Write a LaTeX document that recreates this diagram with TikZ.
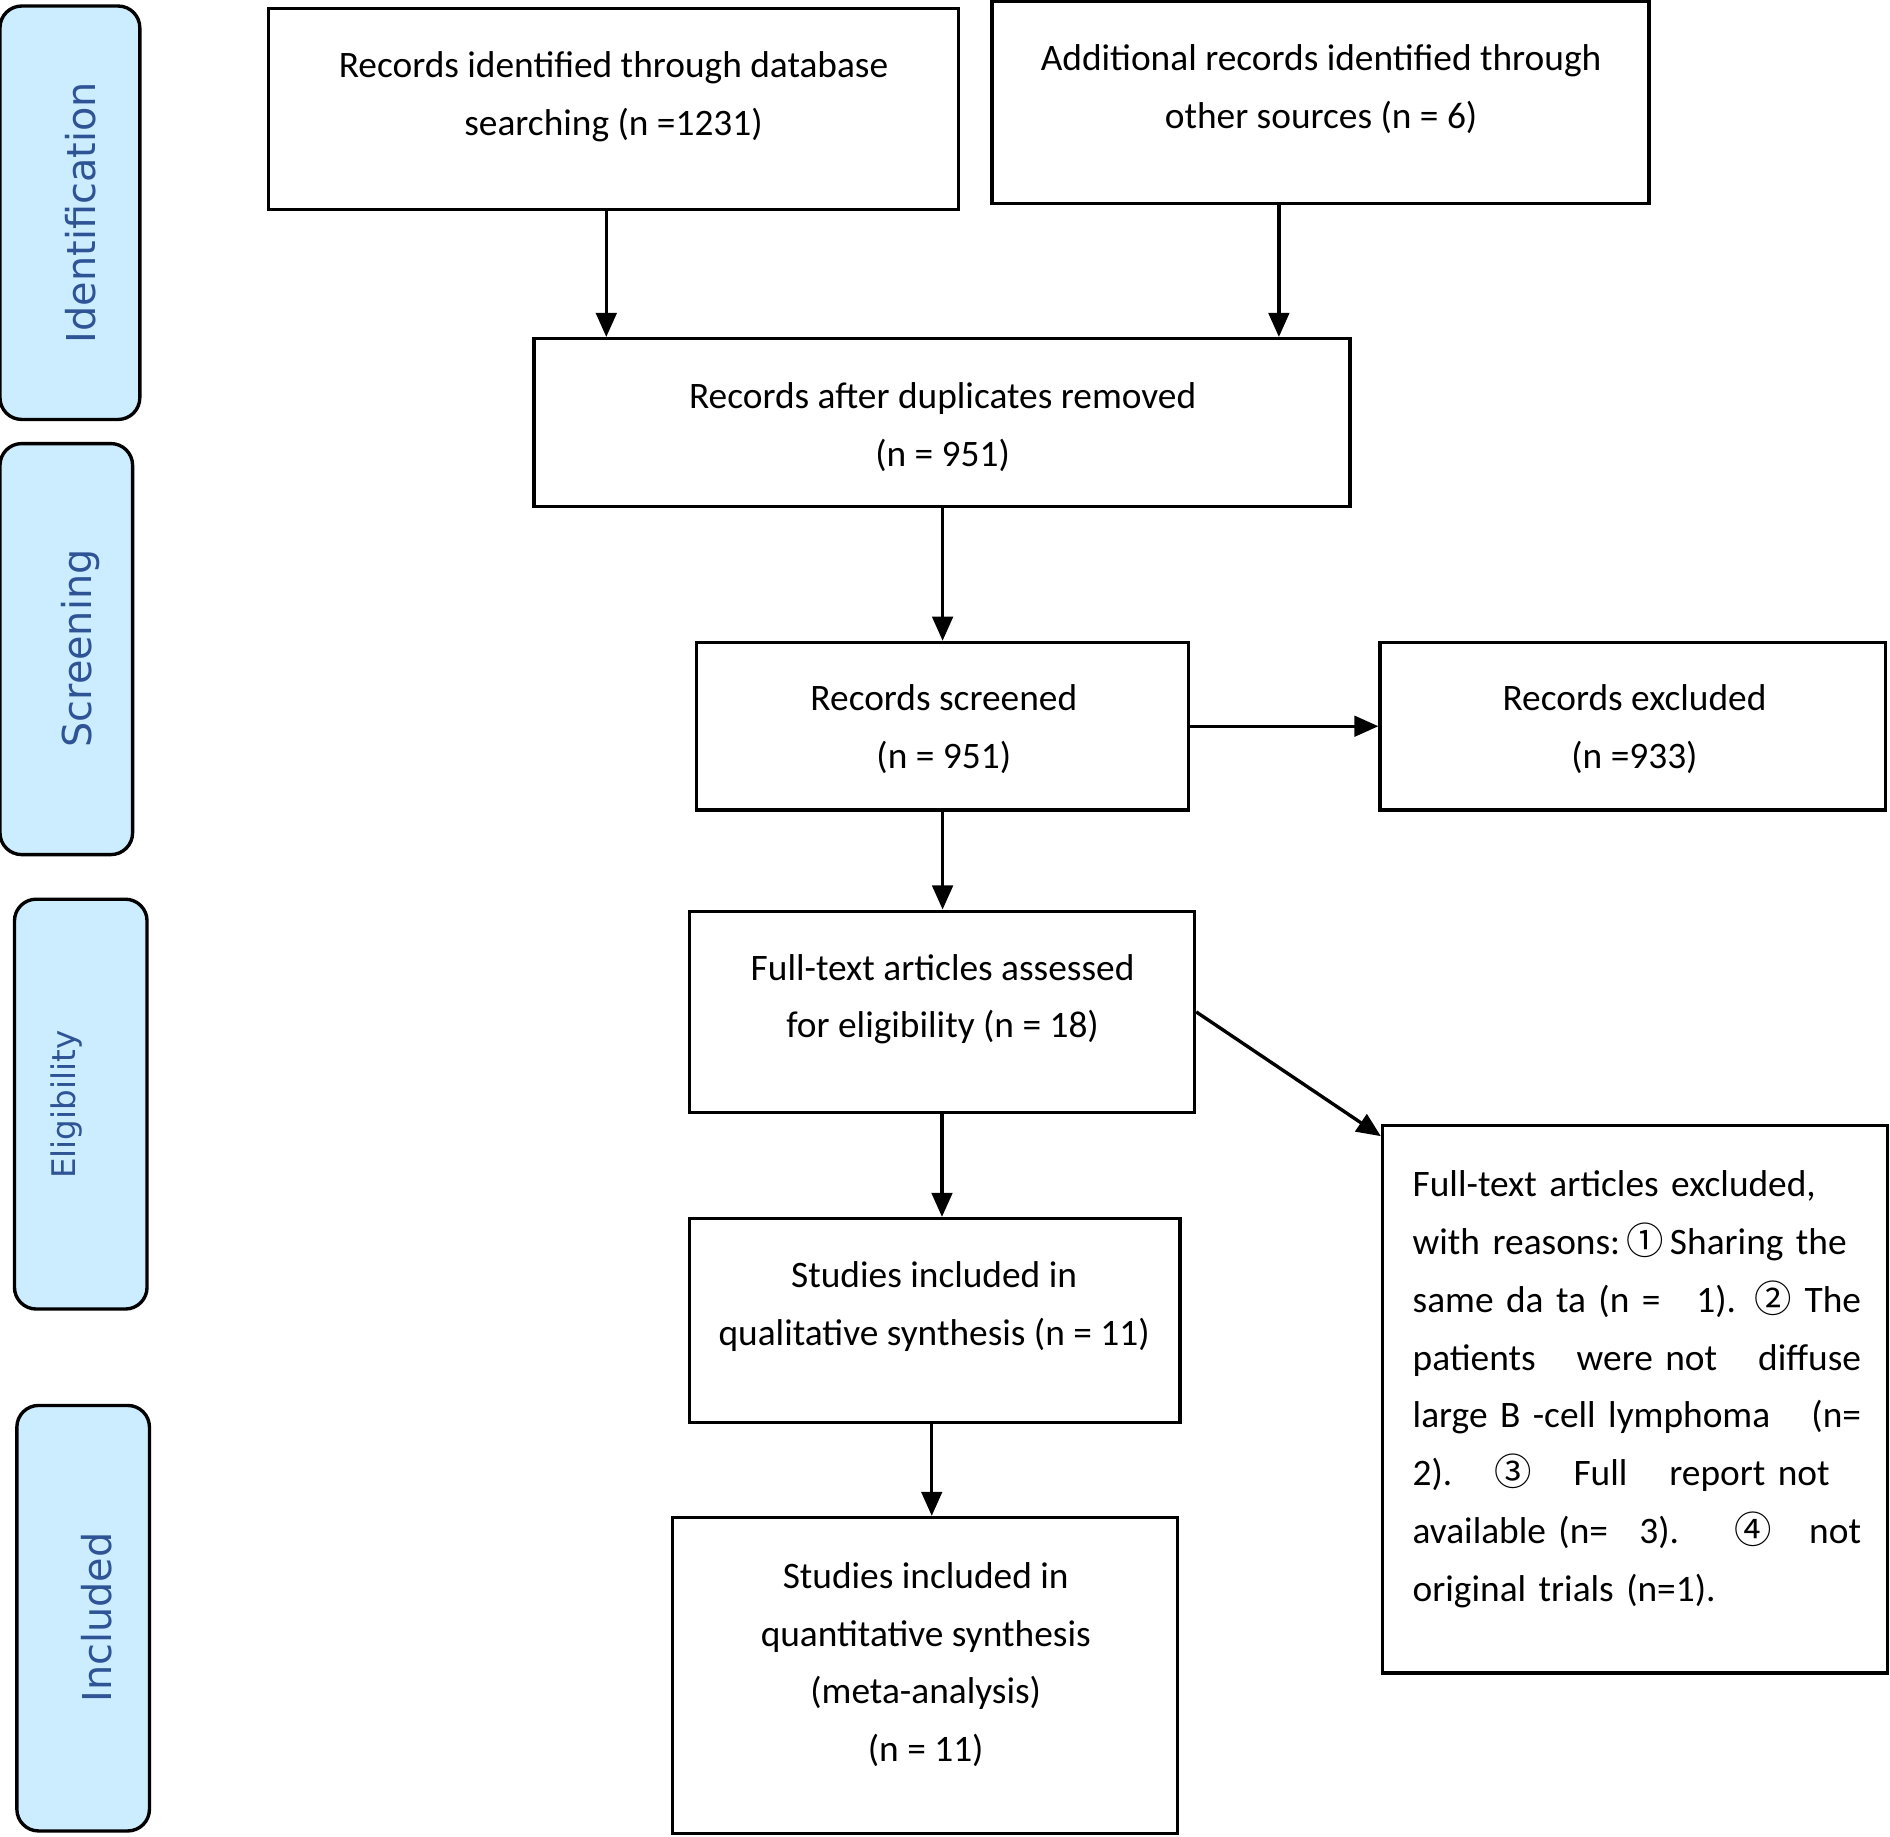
\documentclass[tikz,border=0pt]{standalone}
\usepackage{fontspec}
\setmainfont{Carlito}
\newfontfamily\phasefont{DejaVu Sans}
\newfontfamily\cjkfont{Noto Sans CJK SC}
\usetikzlibrary{arrows.meta}
\definecolor{phasefill}{RGB}{204,236,255}
\definecolor{phasetext}{RGB}{47,84,150}
\newcommand{\cnum}[1]{{\cjkfont #1}}
\begin{document}
\begin{tikzpicture}[x=0.5pt,y=-0.5pt,
  box/.style={draw, line width=1.4pt, inner sep=0pt},
  txt/.style={align=center, font=\fontsize{15.5}{24}\selectfont, inner sep=0pt},
  phase/.style={draw, line width=1.4pt, fill=phasefill, rounded corners=9pt, inner sep=0pt},
  phasetxt/.style={rotate=90, text=phasetext, font=\phasefont\fontsize{16.5}{20}\selectfont, inner sep=0pt},
  arr/.style={line width=1.4pt, -{Triangle[length=10pt,width=8.5pt]}}]
\useasboundingbox (0,0) rectangle (1568,1524);

% phase boxes
\node[phase, minimum width=58pt, minimum height=171.5pt] (p1) at (58,176.5) {};
\node[phase, minimum width=55pt, minimum height=170.5pt] (p2) at (55,538.5) {};
\node[phase, minimum width=55pt, minimum height=170pt] (p3) at (67,916) {};
\node[phase, minimum width=55pt, minimum height=176.5pt] (p4) at (69,1342.5) {};
\node[phasetxt] (p1t) at (67,176.5) {Identification};
\node[phasetxt] (p2t) at (67,538) {Screening};
\node[phasetxt, font=\phasefont\fontsize{13.5}{16}\selectfont] (p3t) at (55,916.5) {Eligibility};
\node[phasetxt] (p4t) at (80,1342) {Included};

% flow boxes
\node[box, minimum width=286pt, minimum height=83.5pt] (b1) at (509,90.5) {};
\node[txt] (b1t) at (509,80) {Records identified through database\\searching (n =1231)};
\node[box, minimum width=272.5pt, minimum height=84pt] (b2) at (1095.5,85) {};
\node[txt] (b2t) at (1096,74) {Additional records identified through\\other sources (n = 6)};
\node[box, minimum width=338.5pt, minimum height=69.5pt] (b3) at (781.5,350.5) {};
\node[txt] (b3t) at (782,354) {Records after duplicates removed\\(n = 951)};
\node[box, minimum width=204pt, minimum height=69.5pt] (b4) at (782,602.5) {};
\node[txt] (b4t) at (783,605) {Records screened\\(n = 951)};
\node[box, minimum width=209.5pt, minimum height=69.5pt] (b5) at (1354.5,602.5) {};
\node[txt] (b5t) at (1356,605) {Records excluded\\(n =933)};
\node[box, minimum width=209.5pt, minimum height=83.5pt] (b6) at (781.5,839.5) {};
\node[txt] (b6t) at (782,829) {Full-text articles assessed\\for eligibility (n = 18)};
\node[box, minimum width=209.5pt, minimum height=227pt] (b7) at (1356.5,1161) {};
\node[txt, align=left, text width=186pt] (b7t) at (1358,1152.5) {%
Full-text articles excluded,\\
\makebox[186pt][s]{with reasons:\,\cnum{①}\,Sharing the}\\
\makebox[186pt][l]{same da ta (n =\hfill 1). \cnum{②} The}\\
\makebox[186pt][l]{patients\hfill were not\hfill diffuse}\\
\makebox[186pt][l]{large B -cell lymphoma\hfill (n=}\\
\makebox[173pt][l]{2).\hfill \cnum{③}\hfill Full\hfill report not}\\
\makebox[186pt][l]{available (n=\hspace{13pt}3).\hspace{0pt plus 1.5fill}\cnum{④}\hspace{0pt plus 1fill}not}\\
original trials (n=1).};
\node[box, minimum width=203.5pt, minimum height=84.5pt] (b8) at (775.5,1095.5) {};
\node[txt] (b8t) at (775,1084) {Studies included in\\qualitative synthesis (n = 11)};
\node[box, minimum width=209.5pt, minimum height=131pt] (b9) at (767.5,1390) {};
\node[txt] (b9t) at (768,1381) {Studies included in\\quantitative synthesis\\(meta-analysis)\\(n = 11)};

% connectors
\coordinate (a1) at (503,0);
\coordinate (a2) at (1061,0);
\coordinate (a3) at (773,0);
\draw[arr] (b1.south -| a1) -- (b3.north -| a1);
\draw[arr] (b2.south -| a2) -- (b3.north -| a2);
\draw[arr] (b3.south -| b4.north) -- (b4.north);
\draw[arr] (b4.east) -- (b5.west);
\draw[arr] (b4.south) -- (b4.south |- b6.north);
\draw[arr] (b6.east) -- ([yshift=-5pt]b7.north west);
\draw[arr] (b6.south) -- (b6.south |- b8.north);
\draw[arr] (b8.south -| a3) -- (b9.north -| a3);
\end{tikzpicture}
\end{document}
